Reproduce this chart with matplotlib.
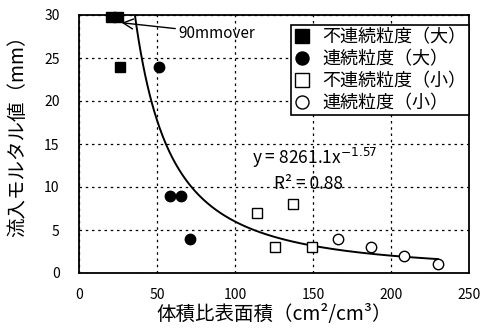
import numpy as np
import matplotlib.pyplot as plt

plt.rcParams['font.family'] = ['Noto Sans CJK JP', 'DejaVu Sans']

# 不連続粒度（大）
x_big_gap = [20.5, 25.0, 26.5]
y_big_gap = [29.8, 29.8, 24.0]
# 連続粒度（大）
x_big_cont = [51.5, 58.3, 65.2, 71.0]
y_big_cont = [24.0, 9.0, 9.0, 4.0]
# 不連続粒度（小）
x_small_gap = [114.3, 125.6, 137.4, 149.1]
y_small_gap = [7.0, 3.0, 8.0, 3.0]
# 連続粒度（小）
x_small_cont = [166.0, 187.0, 208.3, 230.0]
y_small_cont = [4.0, 3.0, 2.0, 1.0]

# power fit y = a * x^b
fit_a, fit_b = 8261.1, -1.57
fit_r2 = 0.88

fig = plt.figure(figsize=(4.91, 3.32), dpi=100)
ax = fig.add_axes([79/491, 1 - 273/332, 390/491, 258/332])

ax.plot(x_big_gap, y_big_gap, 's', color='black', markersize=7.5,
        label='不連続粒度（大）', clip_on=False, zorder=3)
ax.plot(x_big_cont, y_big_cont, 'o', color='black', markersize=7.5,
        label='連続粒度（大）', zorder=3)
ax.plot(x_small_gap, y_small_gap, 's', mfc='white', mec='black', mew=1.0,
        markersize=7.5, label='不連続粒度（小）', zorder=3)
ax.plot(x_small_cont, y_small_cont, 'o', mfc='white', mec='black', mew=1.0,
        markersize=7.5, label='連続粒度（小）', zorder=3)

xs = np.linspace(20, 230, 300)
ax.plot(xs, fit_a * xs ** fit_b, color='black', lw=1.4, zorder=2)

ax.set_xlim(0, 250)
ax.set_ylim(0, 30)
ax.set_xticks(range(0, 251, 50))
ax.set_yticks(range(0, 31, 5))
ax.grid(True, color='black', linestyle=(0, (2, 3)), linewidth=0.9)
ax.tick_params(length=0, labelsize=10, pad=14)
ax.tick_params(axis='x', pad=11)
for s in ax.spines.values():
    s.set_linewidth(1.3)

ax.set_xlabel('体積比表面積（cm²/cm³）', fontsize=14, labelpad=1)
ax.set_ylabel('流入モルタル値（mm）', fontsize=14)
ax.yaxis.set_label_coords(-0.13, 0.55)

ax.text(111, 13.4, 'y = %.1fx$^{%.2f}$' % (fit_a, fit_b), fontsize=12.5,
        ha='left', va='center')
ax.text(125, 10.4, 'R² = %.2f' % fit_r2, fontsize=12.5,
        ha='left', va='center')

ax.annotate('90mmover', xy=(27.3, 29.1), xytext=(63.5, 27.9),
            fontsize=11, va='center', ha='left',
            arrowprops=dict(arrowstyle='->', color='black', lw=1.0,
                            mutation_scale=18, shrinkA=0, shrinkB=0))

leg = ax.legend(loc='upper right', bbox_to_anchor=(1.0, 0.96), fontsize=13,
                frameon=True, fancybox=False, edgecolor='black',
                borderpad=0.15, labelspacing=0.22, handlelength=1.0,
                handletextpad=0.6, borderaxespad=0, markerscale=1.25)
leg.get_frame().set_linewidth(1.2)
leg.get_frame().set_alpha(1)

fig.savefig('out.png', dpi=100)
